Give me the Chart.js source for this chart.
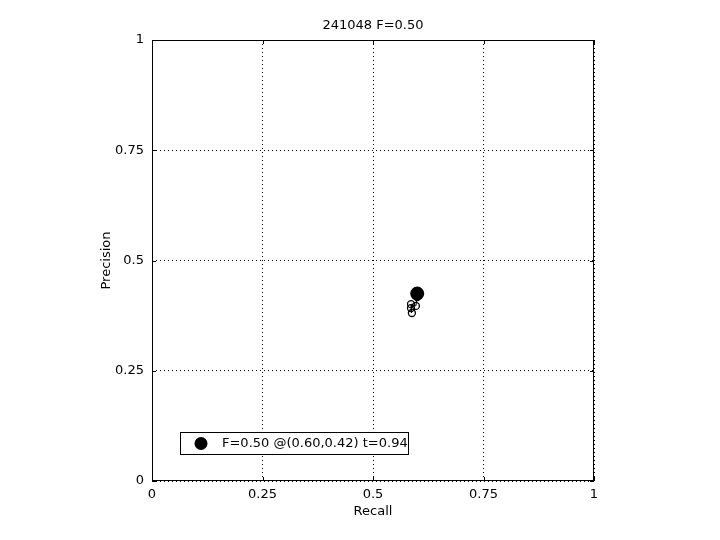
<!DOCTYPE html>
<html>
<head>
<meta charset="utf-8">
<script src="https://cdn.jsdelivr.net/npm/chart.js@4.4.0/dist/chart.umd.min.js"></script>
<style>
  html, body { margin:0; padding:0; background:#fff; }
  canvas { display:block; }
</style>
</head>
<body>
<canvas id="pr" width="720" height="540"></canvas>
<script>
// PR curve points (recall, precision)
const curveRecall    = [0.600, 0.597, 0.586, 0.586, 0.588];
const curvePrecision = [0.417, 0.397, 0.401, 0.392, 0.381];
// best F point
const bestRecall    = [0.60];
const bestPrecision = [0.425];
const tickValues = [0, 0.25, 0.5, 0.75, 1];
const titleText  = '241048 F=0.50';
const legendText = 'F=0.50 @(0.60,0.42) t=0.94';

const FAMILY = '"DejaVu Sans", Arial, sans-serif';
const FONT = '13px ' + FAMILY;

const overlay = {
  id: 'overlay',
  afterDraw(chart) {
    const { ctx, chartArea: a } = chart;
    ctx.save();
    // box
    ctx.strokeStyle = '#000'; ctx.lineWidth = 1; ctx.setLineDash([]);
    ctx.strokeRect(a.left + 0.5, a.top + 0.5, a.right - a.left - 1, a.bottom - a.top - 1);
    // inward ticks
    const xs = chart.scales.x, ys = chart.scales.y;
    ctx.beginPath();
    tickValues.forEach(v => {
      const px = Math.round(xs.getPixelForValue(v)) + 0.5;
      ctx.moveTo(px, a.bottom); ctx.lineTo(px, a.bottom - 4);
      ctx.moveTo(px, a.top); ctx.lineTo(px, a.top + 4);
      const py = Math.round(ys.getPixelForValue(v)) + 0.5;
      ctx.moveTo(a.left, py); ctx.lineTo(a.left + 4, py);
      ctx.moveTo(a.right, py); ctx.lineTo(a.right - 4, py);
    });
    ctx.stroke();
    // title and axis labels
    ctx.fillStyle = '#000'; ctx.font = FONT;
    ctx.textAlign = 'center'; ctx.textBaseline = 'middle';
    ctx.fillText(titleText, (a.left + a.right) / 2, 26);
    ctx.fillText('Recall', (a.left + a.right) / 2, 512);
    ctx.save();
    ctx.translate(107, (a.top + a.bottom) / 2);
    ctx.rotate(-Math.PI / 2);
    ctx.fillText('Precision', 0, 0);
    ctx.restore();
    // legend
    ctx.fillStyle = '#fff';
    ctx.fillRect(180.5, 432.5, 228, 22);
    ctx.strokeRect(180.5, 432.5, 228, 22);
    ctx.fillStyle = '#000';
    ctx.beginPath(); ctx.arc(201, 443.5, 6.5, 0, Math.PI * 2); ctx.fill();
    ctx.textAlign = 'left';
    ctx.fillText(legendText, 222, 444);
    ctx.restore();
  }
};

new Chart(document.getElementById('pr'), {
  type: 'scatter',
  data: {
    datasets: [
      {
        data: curveRecall.map((r, i) => ({ x: r, y: curvePrecision[i] })),
        showLine: true,
        borderColor: '#000', borderWidth: 1,
        pointStyle: 'circle', pointRadius: 3.5, pointBorderWidth: 1.3,
        pointBorderColor: '#000', pointBackgroundColor: 'rgba(0,0,0,0)'
      },
      {
        data: bestRecall.map((r, i) => ({ x: r, y: bestPrecision[i] })),
        pointRadius: 7, pointBorderWidth: 0,
        pointBackgroundColor: '#000', pointBorderColor: '#000'
      }
    ]
  },
  options: {
    responsive: false, animation: false,
    layout: { padding: { top: 40, right: 126, left: 0, bottom: 0 } },
    plugins: { legend: { display: false }, tooltip: { enabled: false } },
    scales: {
      x: {
        type: 'linear', min: 0, max: 1,
        afterFit: s => { s.height = 59; },
        afterBuildTicks: s => { s.ticks = tickValues.map(v => ({ value: v })); },
        grid: { color: '#000', lineWidth: 1, drawTicks: false },
        border: { display: false, dash: [1, 3] },
        ticks: { color: '#000', font: { family: FAMILY, size: 13 }, padding: 6, maxRotation: 0,
                 callback: v => String(v) }
      },
      y: {
        type: 'linear', min: 0, max: 1,
        afterFit: s => { s.width = 152; },
        afterBuildTicks: s => { s.ticks = tickValues.map(v => ({ value: v })); },
        grid: { color: '#000', lineWidth: 1, drawTicks: false },
        border: { display: false, dash: [1, 3] },
        ticks: { color: '#000', font: { family: FAMILY, size: 13 }, padding: 8,
                 callback: v => String(v) }
      }
    }
  },
  plugins: [overlay]
});
</script>
</body>
</html>
